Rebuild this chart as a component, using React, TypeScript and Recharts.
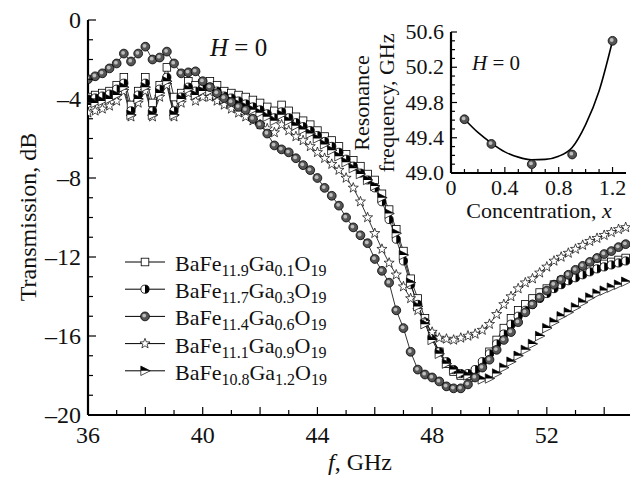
import React from 'react';
import { ComposedChart, Line, XAxis, YAxis, Legend, Scatter } from 'recharts';

const SERIF = 'Liberation Serif, Times New Roman, DejaVu Serif, serif';

// ---------- main chart data ----------
const FREQ = [
  36, 36.25, 36.5, 36.75, 37, 37.25, 37.5, 37.75, 38, 38.25, 38.5, 38.75, 39, 39.25, 39.5, 39.75,
  40, 40.25, 40.5, 40.75, 41, 41.25, 41.5, 41.75, 42, 42.25, 42.5, 42.75, 43, 43.25, 43.5, 43.75,
  44, 44.25, 44.5, 44.75, 45, 45.25, 45.5, 45.75, 46, 46.25, 46.5, 46.75, 47, 47.25, 47.5, 47.75,
  48, 48.25, 48.5, 48.75, 49, 49.25, 49.5, 49.75, 50, 50.25, 50.5, 50.75, 51, 51.25, 51.5, 51.75,
  52, 52.25, 52.5, 52.75, 53, 53.25, 53.5, 53.75, 54, 54.25, 54.5, 54.75,
];

const T_X01 = [
  -3.9, -3.8, -3.7, -3.6, -3.3, -2.9, -4.3, -3.6, -2.9, -4.2, -3.3, -2.4, -3.9, -3.7, -3.1, -3.3,
  -3.2, -3.1, -3.3, -3.6, -3.7, -3.8, -3.9, -4.05, -4.2, -4.4, -4.6, -4.3, -4.6, -4.9, -5.1, -5.3,
  -5.6, -5.9, -6.1, -6.4, -6.8, -7.1, -7.4, -7.8, -8.1, -8.8, -9.6, -10.6, -11.7, -13.1, -14.1, -15.1,
  -16.0, -16.8, -17.4, -17.8, -18.0, -18.0, -17.8, -17.4, -16.8, -16.2, -15.6, -15.1, -14.7, -14.4, -14.1, -13.8,
  -13.6, -13.4, -13.2, -13.0, -12.85, -12.7, -12.55, -12.45, -12.35, -12.25, -12.15, -12.05,
];
const T_X03 = [
  -4.0, -3.95, -3.85, -3.75, -3.5, -3.2, -4.6, -3.8, -3.2, -4.6, -3.5, -2.9, -4.6, -3.9, -3.4, -3.6,
  -3.45, -3.4, -3.6, -3.85, -3.95, -4.1, -4.25, -4.4, -4.55, -4.75, -4.95, -4.65, -4.95, -5.2, -5.4, -5.6,
  -5.85, -6.15, -6.4, -6.7, -7.05, -7.4, -7.75, -8.1, -8.5, -9.2, -10.1, -11.1, -12.2, -13.4, -14.4, -15.3,
  -16.1, -16.8, -17.3, -17.7, -17.9, -17.9, -17.7, -17.3, -16.9, -16.4, -15.9, -15.4, -15.0, -14.7, -14.4, -14.1,
  -13.85, -13.6, -13.4, -13.2, -13.05, -12.9, -12.75, -12.6, -12.5, -12.4, -12.3, -12.2,
];
const T_X06 = [
  -3.0, -2.85, -2.7, -2.45, -2.2, -1.7, -2.1, -1.7, -1.35, -2.0, -1.9, -1.6, -2.2, -2.7, -2.65, -2.6,
  -3.1, -3.4, -3.7, -3.95, -4.15, -4.4, -4.55, -5.0, -5.3, -5.75, -6.35, -6.55, -6.7, -7.0, -7.35, -7.6,
  -8.0, -8.5, -8.9, -9.4, -10.0, -10.5, -10.9, -11.3, -12.1, -12.7, -13.3, -14.7, -15.6, -16.8, -17.7, -17.95,
  -18.1, -18.3, -18.55, -18.65, -18.65, -18.45, -18.1, -17.6, -17.2, -16.7, -16.2, -15.8, -15.3, -14.8, -14.4, -14.05,
  -13.7, -13.4, -13.15, -12.9, -12.65, -12.45, -12.25, -12.05, -11.85, -11.7, -11.5, -11.35,
];
const T_X09 = [
  -4.7, -4.6, -4.5, -4.35, -4.1, -3.6, -4.9, -4.2, -3.6, -4.9, -3.9, -3.3, -4.9, -4.2, -3.7, -4.1,
  -3.9, -3.9, -4.1, -4.3, -4.5, -4.7, -4.9, -5.1, -5.3, -5.5, -5.7, -5.3, -5.6, -5.9, -6.1, -6.4,
  -6.7, -7.0, -7.3, -7.6, -8.0, -8.5, -9.2, -10.0, -10.8, -11.6, -12.3, -12.9, -13.5, -14.1, -14.7, -15.3,
  -15.8, -16.1, -16.15, -16.2, -16.1, -16.0, -15.9, -15.7, -15.4, -14.9, -14.4, -14.0, -13.6, -13.3, -13.1, -12.8,
  -12.5, -12.2, -12.0, -11.8, -11.6, -11.4, -11.2, -11.05, -10.9, -10.75, -10.6, -10.5,
];
const T_X12 = [
  -4.3, -4.2, -4.1, -4.0, -3.8, -3.4, -4.8, -4.0, -3.4, -4.8, -3.7, -3.1, -4.8, -4.0, -3.5, -3.8,
  -3.6, -3.6, -3.8, -4.0, -4.1, -4.25, -4.4, -4.55, -4.7, -4.9, -5.1, -4.8, -5.1, -5.35, -5.55, -5.75,
  -6.0, -6.3, -6.6, -6.9, -7.2, -7.5, -7.8, -8.1, -8.4, -9.0, -9.8, -10.8, -11.9, -13.3, -14.5, -15.4,
  -16.2, -16.9, -17.4, -17.7, -17.9, -18.0, -18.1, -18.2, -18.15, -17.9, -17.6, -17.3, -17.0, -16.7, -16.4, -16.0,
  -15.6, -15.3, -15.0, -14.8, -14.55, -14.3, -14.05, -13.85, -13.7, -13.55, -13.4, -13.25,
];

const SERIES_KEYS = ['x01', 'x03', 'x06', 'x09', 'x12'];
const SERIES_VALUES = [T_X01, T_X03, T_X06, T_X09, T_X12];
const SERIES_MARKERS = ['square', 'half', 'sphere', 'star', 'tri'];
const FE_SUB = ['11.9', '11.7', '11.4', '11.1', '10.8'];
const GA_SUB = ['0.1', '0.3', '0.6', '0.9', '1.2'];
const DRAW_ORDER = [0, 1, 3, 4, 2];

const MAIN_X_TICKS = [36, 37, 38, 39, 40, 41, 42, 43, 44, 45, 46, 47, 48, 49, 50, 51, 52, 53, 54];
const MAIN_X_LABELS = [36, 40, 44, 48, 52];
const MAIN_Y_TICKS = [-20, -19, -18, -17, -16, -15, -14, -13, -12, -11, -10, -9, -8, -7, -6, -5, -4, -3, -2, -1, 0];
const MAIN_Y_LABELS = [0, -4, -8, -12, -16, -20];

// ---------- inset data ----------
const CONC = [0.1, 0.3, 0.6, 0.9, 1.2];
const RES_FREQ = [49.61, 49.33, 49.1, 49.21, 50.5];
const FIT_X = [0.1, 0.2, 0.3, 0.4, 0.5, 0.6, 0.7, 0.8, 0.9, 1.0, 1.1, 1.2];
const FIT_Y = [49.61, 49.46, 49.34, 49.24, 49.18, 49.15, 49.155, 49.19, 49.29, 49.55, 49.93, 50.5];
const INSET_X_TICKS = [0, 0.1, 0.2, 0.3, 0.4, 0.5, 0.6, 0.7, 0.8, 0.9, 1.0, 1.1, 1.2];
const INSET_X_LABELS = ['0', '0.4', '0.8', '1.2'];
const INSET_Y_TICKS = [49.0, 49.1, 49.2, 49.3, 49.4, 49.5, 49.6, 49.7, 49.8, 49.9, 50.0, 50.1, 50.2, 50.3, 50.4, 50.5, 50.6];
const INSET_Y_LABELS = ['49.0', '49.4', '49.8', '50.2', '50.6'];

const mainData = FREQ.map((f, i) => {
  const row: any = { f };
  SERIES_KEYS.forEach((k, s) => { row[k] = SERIES_VALUES[s][i]; });
  return row;
});
const fitData = FIT_X.map((x, i) => ({ x, y: FIT_Y[i] }));
const pointData = CONC.map((x, i) => ({ x, y: RES_FREQ[i] }));

// ---------- markers ----------
function Marker({ kind, cx, cy }: { kind: string; cx: number; cy: number }) {
  if (cx == null || cy == null || isNaN(cx) || isNaN(cy)) return null;
  if (kind === 'square') {
    return <rect x={cx - 3.8} y={cy - 3.8} width={7.6} height={7.6} fill="#fff" stroke="#000" strokeWidth={0.8} />;
  }
  if (kind === 'half') {
    return (
      <g>
        <circle cx={cx} cy={cy} r={4.1} fill="#fff" stroke="#000" strokeWidth={0.8} />
        <path d={`M ${cx} ${cy - 4.1} A 4.1 4.1 0 0 1 ${cx} ${cy + 4.1} Z`} fill="#000" />
      </g>
    );
  }
  if (kind === 'sphere') {
    return (
      <g>
        <circle cx={cx} cy={cy} r={4.4} fill="#555" stroke="#000" strokeWidth={0.8} />
        <circle cx={cx - 0.8} cy={cy - 0.8} r={1.9} fill="#bdbdbd" />
      </g>
    );
  }
  if (kind === 'star') {
    const pts: string[] = [];
    for (let k = 0; k < 10; k++) {
      const a = (-90 + k * 36) * Math.PI / 180;
      const r = k % 2 === 0 ? 5.3 : 2.2;
      pts.push(`${cx + r * Math.cos(a)},${cy + r * Math.sin(a)}`);
    }
    return <polygon points={pts.join(' ')} fill="#fff" stroke="#000" strokeWidth={0.7} />;
  }
  return (
    <g>
      <polygon points={`${cx - 4.2},${cy - 4.7} ${cx + 5.2},${cy} ${cx - 4.2},${cy + 4.7}`} fill="#fff" stroke="#000" strokeWidth={0.7} />
      <polygon points={`${cx - 4.2},${cy - 4.7} ${cx + 5.2},${cy} ${cx - 4.2},${cy}`} fill="#000" />
    </g>
  );
}

const makeDot = (kind: string, key: string) => (props: any) => (
  <g key={`${key}-${props.index}`}><Marker kind={kind} cx={props.cx} cy={props.cy} /></g>
);

const txt = { fontFamily: SERIF, fill: '#111' } as any;

// ---------- ticks ----------
const MainXTick = (props: any) => {
  const { x, y, payload } = props;
  const v = payload.value;
  const len = v % 2 === 0 ? 8 : 5;
  return (
    <g>
      <line x1={x} x2={x} y1={y} y2={y - len} stroke="#000" strokeWidth={1.2} />
      {MAIN_X_LABELS.includes(v) && (
        <text x={x} y={y + 28} textAnchor="middle" fontSize={24} fontFamily={SERIF} style={txt}>{v}</text>
      )}
    </g>
  );
};

const MainYTick = (props: any) => {
  const { x, y, payload } = props;
  const v = payload.value;
  const isLabel = MAIN_Y_LABELS.includes(v);
  const len = isLabel ? 8 : 5;
  return (
    <g>
      <line x1={x} x2={x + len} y1={y} y2={y} stroke="#000" strokeWidth={1.2} />
      {isLabel && (
        <text x={x - 7} y={y + 8} textAnchor="end" fontSize={24} fontFamily={SERIF} style={txt}>
          {v === 0 ? '0' : `\u2013${Math.abs(v)}`}
        </text>
      )}
    </g>
  );
};

const InsetXTick = (props: any) => {
  const { x, y, payload } = props;
  const v = payload.value;
  const lbl = v === 0 ? '0' : v.toFixed(1);
  const isLabel = INSET_X_LABELS.includes(lbl);
  const len = isLabel ? 6 : 4;
  return (
    <g>
      <line x1={x} x2={x} y1={y} y2={y - len} stroke="#000" strokeWidth={1.2} />
      {isLabel && (
        <text x={x} y={y + 22} textAnchor="middle" fontSize={22} fontFamily={SERIF} style={txt}>{lbl}</text>
      )}
    </g>
  );
};

const InsetYTick = (props: any) => {
  const { x, y, payload } = props;
  const lbl = payload.value.toFixed(1);
  const isLabel = INSET_Y_LABELS.includes(lbl);
  const len = isLabel ? 6 : 4;
  return (
    <g>
      <line x1={x} x2={x + len} y1={y} y2={y} stroke="#000" strokeWidth={1.2} />
      {isLabel && (
        <text x={x - 7} y={y + 7} textAnchor="end" fontSize={22} fontFamily={SERIF} style={txt}>{lbl}</text>
      )}
    </g>
  );
};

// ---------- legend ----------
const renderLegend = () => (
  <svg width={270} height={140} style={{ display: 'block' }}>
    {SERIES_KEYS.map((k, i) => {
      const y = 14 + i * 27.2;
      return (
        <g key={k}>
          <line x1={5} x2={45} y1={y} y2={y} stroke="#000" strokeWidth={1} />
          <Marker kind={SERIES_MARKERS[i]} cx={25} cy={y} />
          <text x={55} y={y + 9} fontSize={22} fontFamily={SERIF} style={txt}>
            BaFe<tspan fontSize={16} dy={5}>{FE_SUB[i]}</tspan>
            <tspan dy={-5}>Ga</tspan><tspan fontSize={16} dy={5}>{GA_SUB[i]}</tspan>
            <tspan dy={-5}>O</tspan><tspan fontSize={16} dy={5}>19</tspan>
          </text>
        </g>
      );
    })}
  </svg>
);

const frameAxis = { stroke: '#000', strokeWidth: 2.2 };

export default function App() {
  const [fontTick, setFontTick] = React.useState(0);
  React.useEffect(() => {
    const fonts = (document as any).fonts;
    document.body.style.fontFamily = SERIF;
    if (fonts && fonts.load) {
      Promise.all([
        fonts.load('22px "Liberation Serif"'),
        fonts.load('italic 22px "Liberation Serif"'),
      ]).then(() => setFontTick((n) => n + 1)).catch(() => setFontTick((n) => n + 1));
    }
  }, []);

  return (
    <div key={fontTick} style={{ position: 'absolute', left: 0, top: 0, width: 635, height: 479, background: '#fff', fontFamily: SERIF }}>
      <ComposedChart width={635} height={479} data={mainData} margin={{ top: 20, right: 5, bottom: 0, left: 0 }}>
        <XAxis
          dataKey="f" type="number" domain={[36, 54.9]} allowDataOverflow ticks={MAIN_X_TICKS} interval={0}
          tick={<MainXTick />} tickLine={false} tickSize={0} tickMargin={0} axisLine={frameAxis} height={64}
          label={() => (
            <text x={360} y={470} textAnchor="middle" fontSize={24} fontFamily={SERIF} style={txt}>
              <tspan fontStyle="italic">f</tspan>, GHz
            </text>
          )}
        />
        <YAxis
          type="number" domain={[-20, 0]} allowDataOverflow ticks={MAIN_Y_TICKS} interval={0}
          tick={<MainYTick />} tickLine={false} tickSize={0} tickMargin={0} axisLine={frameAxis} width={88}
          label={() => (
            <text x={28} y={217} transform="rotate(-90 28 217)" textAnchor="middle" dominantBaseline="central" fontSize={24} fontFamily={SERIF} style={txt}>
              Transmission, dB
            </text>
          )}
        />
        <XAxis xAxisId="top" orientation="top" dataKey="f" type="number" domain={[36, 54.9]} height={0} tick={false} tickLine={false} axisLine={frameAxis} />
        <YAxis yAxisId="right" orientation="right" type="number" domain={[-20, 0]} width={0} tick={false} tickLine={false} axisLine={frameAxis} />
        {DRAW_ORDER.map((s) => (
          <Line
            key={SERIES_KEYS[s]}
            dataKey={SERIES_KEYS[s]}
            name={`BaFe${FE_SUB[s]}Ga${GA_SUB[s]}O19`}
            stroke="#000"
            strokeWidth={0.8}
            type="linear"
            dot={makeDot(SERIES_MARKERS[s], SERIES_KEYS[s])}
            activeDot={false}
            isAnimationActive={false}
          />
        ))}
        <Legend layout="vertical" align="center" verticalAlign="middle" content={renderLegend}
          wrapperStyle={{ position: 'absolute', left: 120, top: 248, width: 270, height: 140 }} />
      </ComposedChart>

      <svg width={635} height={479} style={{ position: 'absolute', left: 0, top: 0, pointerEvents: 'none' }}>
        <text x={210} y={56} fontSize={25} fontFamily={SERIF} style={txt}>
          <tspan fontStyle="italic">H</tspan> = 0
        </text>
      </svg>

      <div style={{ position: 'absolute', left: 340, top: 20 }}>
        <ComposedChart width={292} height={205} margin={{ top: 12, right: 6, bottom: 0, left: 0 }}>
          <XAxis
            dataKey="x" type="number" domain={[0, 1.3]} allowDataOverflow ticks={INSET_X_TICKS} interval={0}
            tick={<InsetXTick />} tickLine={false} tickSize={0} tickMargin={0} axisLine={frameAxis} height={52}
            label={() => (
              <text x={199} y={198} textAnchor="middle" fontSize={22} fontFamily={SERIF} style={txt}>
                Concentration, <tspan fontStyle="italic">x</tspan>
              </text>
            )}
          />
          <YAxis
            dataKey="y" type="number" domain={[49, 50.6]} allowDataOverflow ticks={INSET_Y_TICKS} interval={0}
            tick={<InsetYTick />} tickLine={false} tickSize={0} tickMargin={0} axisLine={frameAxis} width={111}
            label={() => (
              <g>
                <text x={21} y={83} transform="rotate(-90 21 83)" textAnchor="middle" dominantBaseline="central" fontSize={22} fontFamily={SERIF} style={txt}>Resonance</text>
                <text x={46} y={83} transform="rotate(-90 46 83)" textAnchor="middle" dominantBaseline="central" fontSize={22} fontFamily={SERIF} style={txt}>frequency, GHz</text>
              </g>
            )}
          />
          <XAxis xAxisId="top" orientation="top" dataKey="x" type="number" domain={[0, 1.3]} height={0} tick={false} tickLine={false} axisLine={frameAxis} />
          <YAxis yAxisId="right" orientation="right" type="number" domain={[49, 50.6]} width={0} tick={false} tickLine={false} axisLine={frameAxis} />
          <Line data={fitData} dataKey="y" stroke="#000" strokeWidth={1.6} type="monotone" dot={false} activeDot={false} isAnimationActive={false} />
          <Scatter data={pointData} dataKey="y" isAnimationActive={false}
            shape={(p: any) => <Marker kind="sphere" cx={p.cx} cy={p.cy} />} />
        </ComposedChart>
        <svg width={292} height={205} style={{ position: 'absolute', left: 0, top: 0, pointerEvents: 'none' }}>
          <text x={132} y={50} fontSize={21} fontFamily={SERIF} style={txt}>
            <tspan fontStyle="italic">H</tspan> = 0
          </text>
        </svg>
      </div>
    </div>
  );
}
